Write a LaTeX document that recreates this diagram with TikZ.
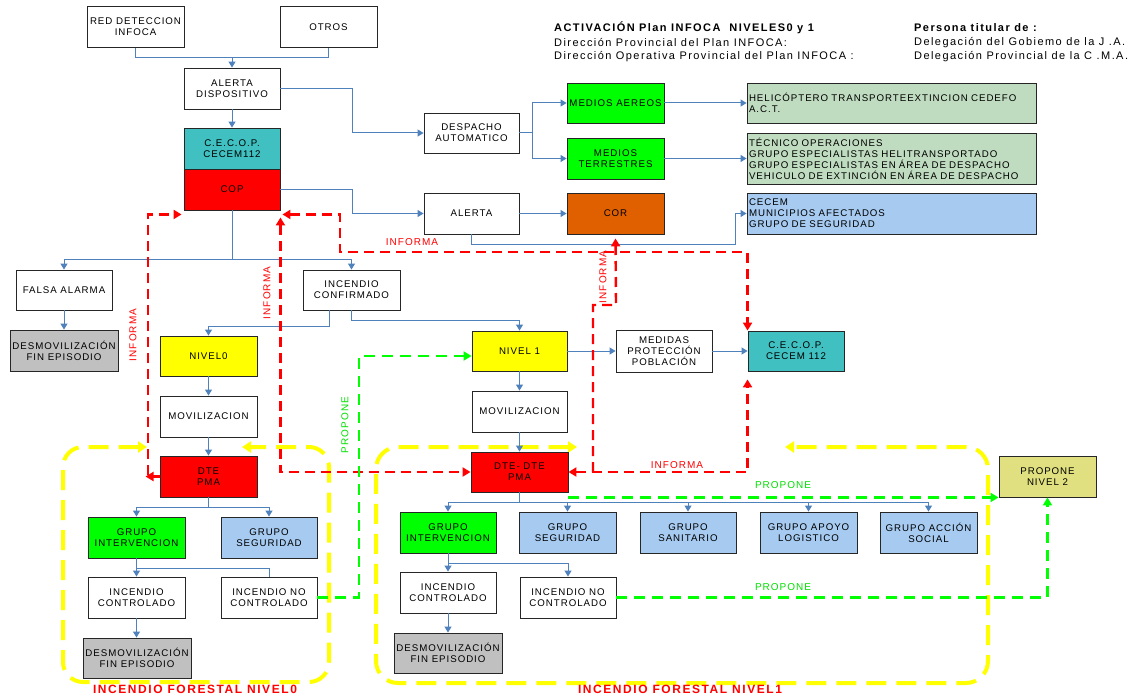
\documentclass[tikz,border=0pt]{standalone}
\usepackage{fontspec}
\setmainfont{Liberation Sans}[LetterSpace=10]
\newfontfamily\ttlfont{Liberation Sans}[LetterSpace=13]
\usetikzlibrary{arrows.meta,calc}
\definecolor{cteal}{HTML}{40C0C0}
\definecolor{cred}{HTML}{FF0000}
\definecolor{cgreen}{HTML}{00FF00}
\definecolor{cyel}{HTML}{FFFF00}
\definecolor{cgray}{HTML}{C0C0C0}
\definecolor{cblue}{HTML}{A6CAF0}
\definecolor{cpale}{HTML}{C0DCC0}
\definecolor{corange}{HTML}{E06000}
\definecolor{ckhaki}{HTML}{E0E080}
\definecolor{cline}{HTML}{4F81BD}
\definecolor{cgtext}{HTML}{00E000}
\begin{document}
\begin{tikzpicture}[x=1pt,y=-1pt,
  box/.style={draw=black!85, line width=0.9pt, fill=white, inner sep=1pt, align=center,
    font=\fontsize{9.7}{11}\selectfont, minimum width=97pt, minimum height=41pt},
  lbox/.style={box, align=left, text width=285pt, inner xsep=2pt, minimum width=289pt},
  conn/.style={draw=cline, line width=1pt},
  arr/.style={-{Triangle[length=6pt,width=7pt]}},
  redd/.style={draw=cred, line width=2.4pt, dash pattern=on 10pt off 6pt},
  rtip/.style={-{Triangle[length=8pt,width=9pt]}},
  rtips/.style={{Triangle[length=8pt,width=9pt]}-{Triangle[length=8pt,width=9pt]}},
  grn/.style={draw=cgreen, line width=2.4pt, dash pattern=on 11pt off 7pt},
  yel/.style={draw=cyel, line width=4pt, dash pattern=on 20pt off 10pt,
    {Triangle[length=9pt,width=11pt]}-{Triangle[length=9pt,width=11pt]}},
  rlab/.style={text=cred, font=\fontsize{10}{11}\selectfont, inner sep=1pt},
  glab/.style={text=cgtext, font=\fontsize{10}{11}\selectfont, inner sep=1pt},
  ttl/.style={anchor=west, font=\ttlfont\fontsize{11}{12}\selectfont, inner sep=0pt},
  big/.style={text=cred, font=\ttlfont\bfseries\fontsize{12}{13}\selectfont, inner sep=0pt}
]
\useasboundingbox[fill=white] (0,0) rectangle (1137,698);

% yellow zones
\draw[yel, rounded corners=20pt] (147,447) -- (63,447) -- (63,682) -- (329,682) -- (329,447) -- (242,447);
\draw[yel, rounded corners=22pt] (577,447) -- (376,447) -- (376,683) -- (988,683) -- (988,447) -- (785,447);

% title
\node[ttl, font=\ttlfont\bfseries\fontsize{11}{12}\selectfont] (t1) at (554,28) {ACTIVACIÓN Plan INFOCA\ \ NIVELES0 y 1};
\node[ttl] (t2) at (554,43) {Dirección Provincial del Plan INFOCA:};
\node[ttl] (t3) at (554,57) {Dirección Operativa Provincial del Plan INFOCA :};
\node[ttl, font=\ttlfont\bfseries\fontsize{11}{12}\selectfont] (t4) at (914,28) {Persona titular de :};
\node[ttl] (t5) at (914,43) {Delegación del Gobiemo de la J .A.};
\node[ttl] (t6) at (914,57) {Delegación Provincial de la C .M.A.};

% nodes top
\node[box] (redinf) at (135.5,27) {RED DETECCION\\INFOCA};
\node[box] (otros) at (328.5,27) {OTROS};
\node[box, minimum width=96pt] (alertad) at (232,88.5) {ALERTA\\DISPOSITIVO};
\node[box, minimum width=96pt, fill=cteal] (cecop) at (232,148.5) {C.E.C.O.P.\\CECEM112};
\node[box, minimum width=96pt, fill=cred] (cop) at (232,189.5) {COP};
\node[box, minimum width=95pt, minimum height=40pt] (despacho) at (471.5,133) {DESPACHO\\AUTOMATICO};
\node[box, minimum width=95pt] (alerta) at (471.5,213.5) {ALERTA};
\node[box, minimum height=40pt, fill=cgreen] (aereos) at (615.5,103) {MEDIOS AEREOS};
\node[box, fill=cgreen] (terrestres) at (615.5,158.5) {MEDIOS\\TERRESTRES};
\node[box, fill=corange] (cor) at (615.5,213.5) {COR};
\node[lbox, minimum height=40pt, fill=cpale] (heli) at (891.5,103) {HELICÓPTERO TRANSPORTEEXTINCION CEDEFO\\A.C.T.};
\node[lbox, minimum height=51pt, fill=cpale] (tecnico) at (891.5,158.5) {TÉCNICO OPERACIONES\\GRUPO ESPECIALISTAS HELITRANSPORTADO\\GRUPO ESPECIALISTAS EN ÁREA DE DESPACHO\\VEHICULO DE EXTINCIÓN EN ÁREA DE DESPACHO};
\node[lbox, fill=cblue] (cecemb) at (891.5,213.5) {CECEM\\MUNICIPIOS AFECTADOS\\GRUPO DE SEGURIDAD};

% middle / level 0
\node[box, minimum width=96pt, minimum height=40pt] (falsa) at (64,290) {FALSA ALARMA};
\node[box, minimum width=108pt, fill=cgray] (desmova) at (64,350.5) {DESMOVILIZACIÓN\\FIN EPISODIO};
\node[box, minimum height=40pt] (confirmado) at (351.5,290) {INCENDIO\\CONFIRMADO};
\node[box, minimum height=40pt, fill=cyel] (nivel0) at (208.5,356) {NIVEL0};
\node[box] (movil0) at (208.5,416.5) {MOVILIZACION};
\node[box, fill=cred] (dte0) at (208.5,476.5) {DTE\\PMA};
\node[box, fill=cgreen] (gint0) at (136.5,537.5) {GRUPO\\INTERVENCION};
\node[box, minimum width=96pt, fill=cblue] (gseg0) at (269,537.5) {GRUPO\\SEGURIDAD};
\node[box] (icontr0) at (136.5,597.5) {INCENDIO\\CONTROLADO};
\node[box, minimum width=96pt] (inocontr0) at (269,597.5) {INCENDIO NO\\CONTROLADO};
\node[box, minimum width=108pt, minimum height=40pt, fill=cgray] (desmovb) at (137,658) {DESMOVILIZACIÓN\\FIN EPISODIO};

% level 1
\node[box, minimum width=95pt, minimum height=40pt, fill=cyel] (nivel1) at (519.5,351) {NIVEL 1};
\node[box, minimum width=95pt] (movil1) at (519.5,411.5) {MOVILIZACION};
\node[box, minimum height=40pt, fill=cred] (dte1) at (519.5,472) {DTE- DTE\\PMA};
\node[box, minimum width=96pt, minimum height=42pt] (medidas) at (664,351) {MEDIDAS\\PROTECCIÓN\\POBLACIÓN};
\node[box, minimum width=96pt, minimum height=40pt, fill=cteal] (cecop1) at (796,351) {C.E.C.O.P.\\CECEM 112};
\node[box, minimum width=96pt, fill=cgreen] (gint1) at (448,532.5) {GRUPO\\INTERVENCION};
\node[box, fill=cblue] (gseg1) at (567.5,532.5) {GRUPO\\SEGURIDAD};
\node[box, minimum width=96pt, fill=cblue] (gsan1) at (688,532.5) {GRUPO\\SANITARIO};
\node[box, fill=cblue] (gapo1) at (808.5,532.5) {GRUPO APOYO\\LOGISTICO};
\node[box, fill=cblue] (gacc1) at (928.5,532.5) {GRUPO ACCIÓN\\SOCIAL};
\node[box, minimum width=96pt] (icontr1) at (448,592.5) {INCENDIO\\CONTROLADO};
\node[box, minimum width=96pt] (inocontr1) at (568,597.5) {INCENDIO NO\\CONTROLADO};
\node[box, minimum width=108pt, minimum height=40pt, fill=cgray] (desmov1) at (448,653) {DESMOVILIZACIÓN\\FIN EPISODIO};
\node[box, fill=ckhaki] (nivel2) at (1047.5,476.5) {PROPONE\\NIVEL 2};

% blue connectors
\draw[conn] (redinf.south) -- (redinf.south |- 0,58) -| (otros.south);
\draw[conn,arr] (232,58) -- (alertad.north);
\draw[conn,arr] (alertad.south) -- (cecop.north);
\draw[conn,arr] (alertad.east) -- (352,88.5) |- (despacho.west);
\draw[conn,arr] (cop.east) -- (352,189.5) |- (alerta.west);
\draw[conn,arr] (despacho.east) -- (532,133) |- (aereos.west);
\draw[conn,arr] (532,133) |- (terrestres.west);
\draw[conn,arr] (aereos.east) -- (heli.west);
\draw[conn,arr] (terrestres.east) -- (tecnico.west);
\draw[conn,arr] (alerta.east) -- (cor.west);
\draw[conn,arr] (alerta.south) |- (735,244) |- (cecemb.west);
\draw[conn,arr] (cop.south) -- (232,259) -| (falsa.north);
\draw[conn,arr] (232,259) -| (confirmado.north);
\draw[conn,arr] (falsa.south) -- (desmova.north);
\draw[conn,arr] ($(confirmado.south)+(-22.5,0)$) -- ++(0,16) -| (nivel0.north);
\draw[conn,arr] (confirmado.south) -- ++(0,10) -| (nivel1.north);
\draw[conn,arr] (nivel0.south) -- (movil0.north);
\draw[conn,arr] (movil0.south) -- (dte0.north);
\draw[conn,arr] (dte0.south) -- ++(0,10) -| (gint0.north);
\draw[conn,arr] (dte0.south) ++(0,10) -| (gseg0.north);
\draw[conn,arr] (gint0.south) -- (icontr0.north);
\draw[conn] (gint0.south) ++(0,10) -| (inocontr0.north);
\draw[conn,arr] (icontr0.south) -- (icontr0.south |- desmovb.north);
\draw[conn,arr] (nivel1.south) -- (movil1.north);
\draw[conn,arr] (movil1.south) -- (dte1.north);
\draw[conn,arr] (nivel1.east) -- (medidas.west);
\draw[conn,arr] (medidas.east) -- (cecop1.west);
\draw[conn,arr] (dte1.south) -- ++(0,10) -| (gint1.north);
\draw[conn,arr] (dte1.south) ++(0,10) -| (gseg1.north);
\draw[conn,arr] (dte1.south) ++(0,10) -| (gsan1.north);
\draw[conn,arr] (dte1.south) ++(0,10) -| (gapo1.north);
\draw[conn,arr] (dte1.south) ++(0,10) -| (gacc1.north);
\draw[conn,arr] (gint1.south) -- (icontr1.north);
\draw[conn,arr] (gint1.south) ++(0,10) -| (inocontr1.north);
\draw[conn,arr] (icontr1.south) -- (desmov1.north);

% red dashed
\draw[redd,rtip] (148,475) |- ($(cop.south west)+(-2,4)$);
\draw[draw=cred,line width=2.4pt,rtip] (dte0.west) -- ++(-14,0);
\draw[redd,rtips] ($(cop.south east)+(2,4)$) -| (340,252) -| ($(cecop1.north west)+(0,0)$);
\draw[redd,rtips] ($(cop.south east)+(0,7)$) |- (dte1.west);
\draw[redd,rtips] (dte1.east) -| ($(cecop1.south west)+(0,8)$);
\draw[redd,rtip] (593,472) |- (616,305) -- ($(cor.south)+(0,4)$);

% green dashed
\draw[grn,rtip] (inocontr0.east) -- (359,597.5) |- ($(nivel1.west)+(0,5)$);
\draw[grn,rtip] ($(dte1.south east)+(0,5)$) -- (nivel2.south west);
\draw[grn,rtip] (inocontr1.east) -| (nivel2.south);

% labels
\node[rlab, rotate=90] (i1) at (133,335) {INFORMA};
\node[rlab, rotate=90] (i2) at (267,293) {INFORMA};
\node[rlab, rotate=90] (i3) at (603,277) {INFORMA};
\node[rlab] (i4) at (412,242) {INFORMA};
\node[rlab] (i5) at (677,465) {INFORMA};
\node[glab, rotate=90] (p1) at (345,425) {PROPONE};
\node[glab] (p2) at (783,485) {PROPONE};
\node[glab] (p3) at (783,587) {PROPONE};
\node[big] (l0) at (195,689) {INCENDIO FORESTAL NIVEL0};
\node[big] (l1) at (680,689) {INCENDIO FORESTAL NIVEL1};
\end{tikzpicture}
\end{document}
